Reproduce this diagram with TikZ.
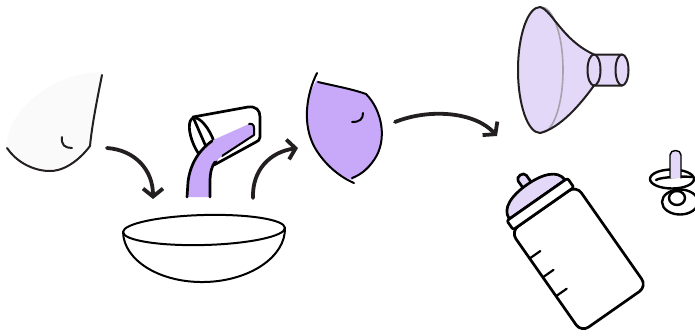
\documentclass[tikz,border=0pt]{standalone}
\usetikzlibrary{arrows.meta}
\definecolor{ink}{HTML}{231F20}
\definecolor{milk}{HTML}{C8A8F8}
\definecolor{lilac}{HTML}{E4D8F8}
\definecolor{rimgray}{HTML}{A8A2AE}
\definecolor{skin}{HTML}{FAFAFA}
\begin{document}
\begin{tikzpicture}[x=1pt,y=-1pt,line cap=round,line join=round,
  thinline/.style={draw=ink,line width=2pt},
  boldline/.style={draw=black,line width=2.7pt},
  flow/.style={draw=ink,line width=3.8pt,-{Straight Barb[length=8pt,width=20pt]}},
]
\useasboundingbox (0,0) rectangle (695,335);

% ---------- breast before pumping ----------
\fill[skin] (7,148) .. controls (5,112) and (52,72) .. (102,72) -- (90,146)
  .. controls (78,162) and (62,172) .. (48,171) .. controls (30,170) and (15,160) .. (7,148) -- cycle;
\draw[thinline] (102,75) .. controls (97,100) and (92,125) .. (90,146)
  .. controls (78,162) and (62,172) .. (48,171) .. controls (30,170) and (15,160) .. (7,148);
\draw[thinline] (62,137) .. controls (61,145) and (65,148) .. (72,148);

% ---------- arrows ----------
\coordinate (a1s) at (107,148); \coordinate (a1e) at (153,199);
\coordinate (a2s) at (253,198); \coordinate (a2e) at (298,148);
\coordinate (a3s) at (395,122); \coordinate (a3e) at (497,136);
\draw[flow] (a1s) .. controls (135,150) and (153,170) .. (a1e);
\draw[flow] (a2s) .. controls (252,170) and (270,152) .. (a2e);
\draw[flow] (a3s) .. controls (430,108) and (475,112) .. (a3e);

% ---------- bowl ----------
\begin{scope}[rotate around={1.5:(204,230)}]
  \filldraw[fill=white,thinline,draw=black] (285,230) .. controls (285,258.7) and (248.7,282) .. (204,282)
    .. controls (159.3,282) and (123,258.7) .. (123,230);
  \draw[thinline,draw=black] (204,230) ellipse [x radius=81pt,y radius=15pt];
\end{scope}

% ---------- tipped cup pouring ----------
\filldraw[fill=white,boldline] (193,117) -- (248,107) .. controls (256,106) and (260,110) .. (260,117)
  -- (260,137) .. controls (260,140) and (258,141) .. (256,142) -- (214,165) -- cycle;
\draw[boldline,rotate around={-66:(203,141)}] (203,141) ellipse [x radius=25pt,y radius=10pt];
\fill[milk] (211,141) -- (249,124) .. controls (252,123) and (254,125) .. (254,128)
  -- (254,135) -- (222,156) -- cycle;
\draw[black,line width=2pt] (249,124) .. controls (252,123) and (254,125) .. (254,128)
  -- (254,135) -- (222,156);
\fill[milk] (187,197) -- (188,182) .. controls (190,165) and (198,151) .. (212,141)
  -- (222,156) -- (216,161) .. controls (212,166) and (210,172) .. (210,182) -- (210,197) -- cycle;
\draw[boldline] (187,197) -- (188,182) .. controls (190,165) and (198,151) .. (212,141);
\draw[boldline] (215,162) .. controls (212,166) and (210,172) .. (210,182) -- (210,197);

% ---------- breast after pumping ----------
\fill[milk] (318,82) .. controls (335,86) and (352,89) .. (366,94)
  .. controls (382,110) and (388,140) .. (374,160) .. controls (367,170) and (360,175) .. (352,180)
  .. controls (338,175) and (325,165) .. (315,148) .. controls (302,125) and (306,95) .. (317,80) -- cycle;
\draw[boldline,line width=2pt] (317,73) .. controls (306,95) and (302,125) .. (315,148)
  .. controls (325,165) and (340,177) .. (354,183);
\draw[boldline,line width=2pt] (318,82) .. controls (335,86) and (352,89) .. (366,94)
  .. controls (382,110) and (388,140) .. (374,160) .. controls (367,170) and (360,175) .. (352,178);
\draw[boldline,line width=2pt] (363,113) .. controls (363,119) and (360,122) .. (352,122);

% ---------- breast shield (funnel) ----------
\fill[lilac] (540,7) .. controls (552,10) and (562,40) .. (594,54.5) -- (622,54.5)
  arc[start angle=90,end angle=-90,x radius=6.5pt,y radius=15.5pt] -- (594,85.5)
  .. controls (580,105) and (560,128) .. (540,133)
  arc[start angle=-90,end angle=-270,x radius=22pt,y radius=63pt] -- cycle;
\draw[rimgray,line width=1.6pt] (541,7) arc[start angle=90,end angle=-90,x radius=22pt,y radius=63pt];
\draw[thinline] (540,133) arc[start angle=-90,end angle=-270,x radius=22pt,y radius=63pt];
\draw[thinline] (540,7) .. controls (552,10) and (562,40) .. (594,54.5) -- (622,54.5);
\draw[thinline] (540,133) .. controls (560,128) and (580,105) .. (594,85.5) -- (622,85.5);
\draw[thinline] (594,70) ellipse [x radius=6.5pt,y radius=15.5pt];
\draw[thinline] (622,70) ellipse [x radius=6.5pt,y radius=15.5pt];

% ---------- feeding bottle ----------
\begin{scope}[shift={(543.5,208.5)},rotate=35]
  \filldraw[fill=white,boldline,rounded corners=9pt] (-40,0) rectangle (40,123);
  \foreach \m in {33,56,79} \draw[boldline,line width=2.2pt] (-40,\m) -- (-27,\m);
  \filldraw[fill=lilac,boldline] (-5,-25) -- (-5,-37) .. controls (-5,-42) and (5,-42) .. (5,-37) -- (5,-25) -- cycle;
  \filldraw[fill=lilac,boldline] (-34,-11) .. controls (-34,-24) and (-18,-29) .. (0,-29)
    .. controls (18,-29) and (34,-24) .. (34,-11) -- cycle;
  \filldraw[fill=white,boldline,rounded corners=2pt] (-37,-11) rectangle (37,0);
\end{scope}

% ---------- pacifier ----------
\draw[boldline,line width=2.4pt] (680,202) ellipse [x radius=18pt,y radius=12.5pt];
\draw[boldline,line width=2.4pt] (677,198) ellipse [x radius=8pt,y radius=7pt];
\filldraw[fill=white,boldline,line width=2.4pt] (672,179) ellipse [x radius=22pt,y radius=9.5pt];
\draw[boldline,line width=2.4pt] (656,180) .. controls (660,177) and (684,176) .. (692,177);
\filldraw[fill=lilac,draw=black,line width=1.4pt] (670,178) -- (670,155)
  .. controls (670,149) and (681,149) .. (681,155) -- (681,178);
\end{tikzpicture}
\end{document}
